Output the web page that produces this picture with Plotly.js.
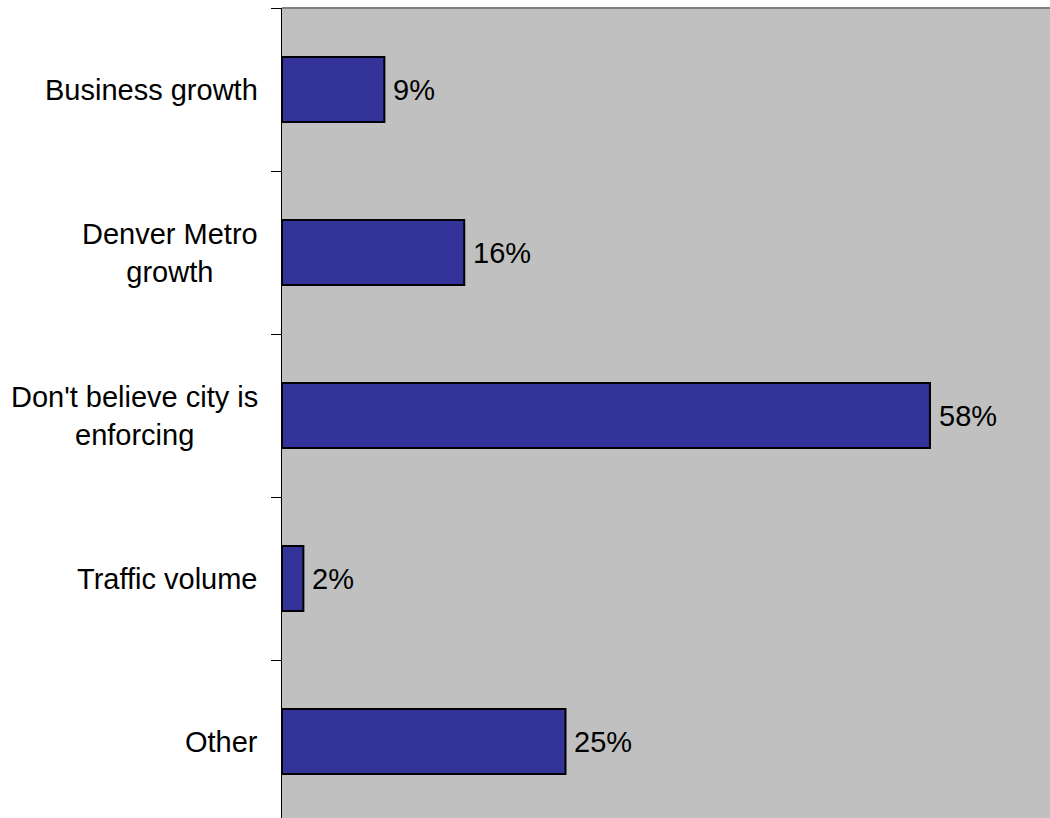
<!DOCTYPE html>
<html>
<head>
<meta charset="utf-8">
<script src="https://cdn.plot.ly/plotly-3.0.1.min.js"></script>
<style>html,body{margin:0;padding:0;background:#fff;}#chart{width:1050px;height:818px;}</style>
</head>
<body>
<div id="chart"></div>
<script>
var categories = ["Business growth", "Denver Metro growth", "Don't believe city is enforcing", "Traffic volume", "Other"];
var categoryLabels = ["Business growth", "Denver Metro<br>growth", "Don't believe city is<br>enforcing", "Traffic volume", "Other"];
var values = [9.1, 16.2, 57.6, 1.9, 25.2];
var valueLabels = ["9%", "16%", "58%", "2%", "25%"];

var FONT = "Liberation Sans, Arial, sans-serif";

var trace = {
  type: "bar",
  orientation: "h",
  y: categories,
  x: values,
  width: 0.4,
  marker: {color: "#333399", line: {color: "#000000", width: 2}},
  hoverinfo: "none"
};

var annotations = [];
for (var i = 0; i < categories.length; i++) {
  annotations.push({
    xref: "paper", yref: "y", x: 0, y: categories[i],
    xanchor: "right", yanchor: "middle", xshift: -22,
    text: categoryLabels[i], showarrow: false, align: "center",
    font: {family: FONT, size: 29, color: "#000"}
  });
  annotations.push({
    xref: "x", yref: "y", x: values[i], y: categories[i],
    xanchor: "left", yanchor: "middle", xshift: 7,
    text: valueLabels[i], showarrow: false,
    font: {family: FONT, size: 29, color: "#000"}
  });
}

var layout = {
  width: 1050, height: 818,
  margin: {l: 282, r: 0, t: 8, b: 0, pad: 0},
  paper_bgcolor: "#ffffff",
  plot_bgcolor: "#c0c0c0",
  showlegend: false,
  xaxis: {range: [0, 68.27], visible: false, fixedrange: true},
  yaxis: {
    type: "category", categoryorder: "array", categoryarray: categories,
    range: [-0.5 + 810 / 163, -0.5],
    showticklabels: false, showgrid: false, zeroline: false,
    showline: true, linecolor: "#000", linewidth: 1,
    ticks: "outside", ticklen: 10, tickcolor: "#000", tickwidth: 1,
    tickson: "boundaries", fixedrange: true
  },
  shapes: [{type: "line", xref: "paper", yref: "paper", x0: 0, x1: 1, y0: 1, y1: 1,
            line: {color: "#808080", width: 2}}],
  annotations: annotations
};

Plotly.newPlot("chart", [trace], layout, {displayModeBar: false, staticPlot: true});
</script>
</body>
</html>
